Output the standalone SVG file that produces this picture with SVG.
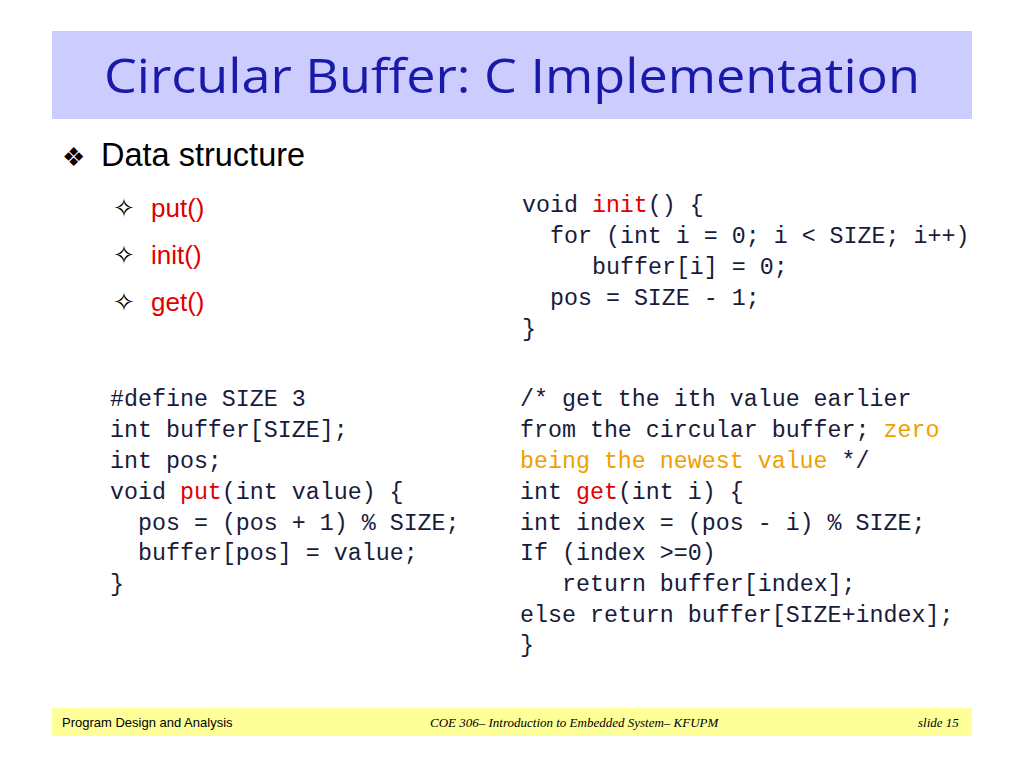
<svg xmlns="http://www.w3.org/2000/svg" width="1024" height="768" viewBox="0 0 1024 768">
<style>
.c{font-family:"Liberation Mono","DejaVu Sans Mono",monospace;font-size:23.3px;fill:#1a1a3a}
.r{fill:#e00000}.o{fill:#f0a000}
.s{font-family:"Liberation Sans",Arial,sans-serif;font-size:26px;fill:#e00000}
.f{font-size:13px;fill:#000}
</style>
<rect width="1024" height="768" fill="#fff"/>
<rect x="52" y="31" width="920" height="88" fill="#ccccff"/>
<text x="104" y="93" font-family="Open Sans,Noto Sans,sans-serif" font-size="48" fill="#1a1aaa" textLength="816" lengthAdjust="spacingAndGlyphs">Circular Buffer: C Implementation</text>
<text x="62" y="166" font-family="DejaVu Sans,sans-serif" font-size="26" fill="#000">❖</text>
<text x="101" y="166" font-family="Liberation Sans,Arial,sans-serif" font-size="32.5" fill="#000">Data structure</text>
<g font-family="DejaVu Sans,sans-serif" font-size="26" fill="#000">
<text x="113" y="217">✧</text><text x="113" y="264">✧</text><text x="113" y="311">✧</text></g>
<text class="s" x="151" y="217">put()</text>
<text class="s" x="151" y="264">init()</text>
<text class="s" x="151" y="311">get()</text>
<g class="c">
<text x="522" y="212">void <tspan class="r">init</tspan>() {</text>
<text x="550" y="243">for (int i = 0; i &lt; SIZE; i++)</text>
<text x="592" y="274">buffer[i] = 0;</text>
<text x="550" y="305">pos = SIZE - 1;</text>
<text x="522" y="336">}</text>
<text x="110" y="406">#define SIZE 3</text>
<text x="110" y="437">int buffer[SIZE];</text>
<text x="110" y="468">int pos;</text>
<text x="110" y="499">void <tspan class="r">put</tspan>(int value) {</text>
<text x="138" y="530">pos = (pos + 1) % SIZE;</text>
<text x="138" y="560">buffer[pos] = value;</text>
<text x="110" y="591">}</text>
<text x="520" y="406">/* get the ith value earlier</text>
<text x="520" y="437">from the circular buffer; <tspan class="o">zero</tspan></text>
<text x="520" y="468"><tspan class="o">being the newest value</tspan> */</text>
<text x="520" y="499">int <tspan class="r">get</tspan>(int i) {</text>
<text x="520" y="530">int index = (pos - i) % SIZE;</text>
<text x="520" y="560">If (index &gt;=0)</text>
<text x="562" y="591">return buffer[index];</text>
<text x="520" y="622">else return buffer[SIZE+index];</text>
<text x="520" y="652">}</text>
</g>
<rect x="52" y="708" width="920" height="28" fill="#ffff99"/>
<text class="f" x="62" y="727" font-family="Liberation Sans,Arial,sans-serif">Program Design and Analysis</text>
<text class="f" x="430" y="727" font-family="Liberation Serif,serif" font-style="italic">COE 306– Introduction to Embedded System– KFUPM</text>
<text class="f" x="918" y="727" font-family="Liberation Serif,serif" font-style="italic">slide 15</text>
</svg>
